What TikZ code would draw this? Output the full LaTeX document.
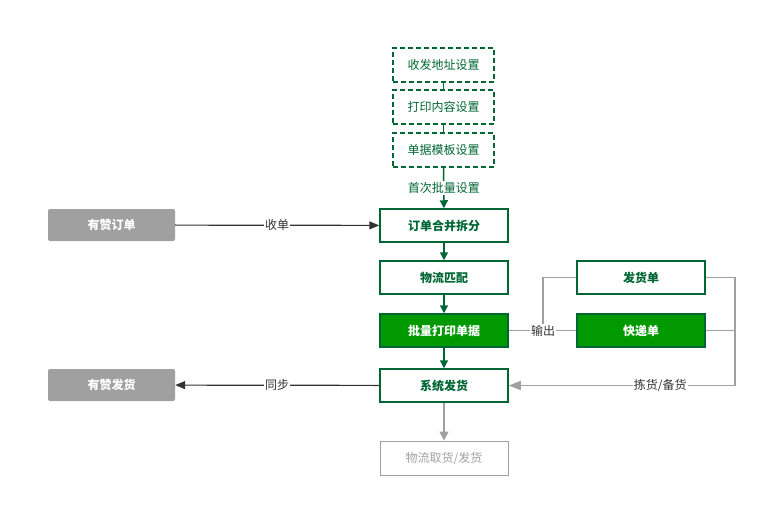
\documentclass[tikz,border=0pt]{standalone}
\usepackage{fontspec}
\setmainfont{Noto Sans CJK SC}
\usetikzlibrary{arrows.meta}
\definecolor{dg}{HTML}{006633}
\definecolor{fg}{HTML}{009900}
\definecolor{gr}{HTML}{A0A0A0}
\begin{document}
\begin{tikzpicture}[x=1pt,y=-1pt,font=\fontsize{12}{14}\selectfont,
 dbox/.style={draw=dg,line width=1.5pt,dash pattern=on 5pt off 3pt,minimum width=101pt,minimum height=34pt,text=dg,inner sep=0},
 box/.style={draw=dg,line width=1.5pt,minimum width=128pt,minimum height=33pt,text=dg,font=\fontsize{12}{14}\selectfont\bfseries,inner sep=0},
 fbox/.style={box,fill=fg,text=white},
 grbox/.style={fill=gr,rounded corners=2pt,minimum width=127pt,minimum height=32pt,text=white,font=\fontsize{12}{14}\selectfont\bfseries,inner sep=0},
 ga/.style={draw=dg,line width=1.5pt,-{Triangle[length=8pt,width=8pt]}},
 gl/.style={draw=gr,line width=1.5pt},
 lab/.style={fill=white,inner sep=1pt,text=black!80}]
\useasboundingbox (0,0) rectangle (767,506);
\node[dbox] (a) at (443.5,65) {收发地址设置};
\node[dbox] (b) at (443.5,107) {打印内容设置};
\node[dbox] (c) at (443.5,150) {单据模板设置};
\node[box] (d) at (444,225.5) {订单合并拆分};
\node[box] (e) at (444,277.5) {物流匹配};
\node[fbox] (f) at (444,330.5) {批量打印单据};
\node[box] (g) at (444,385.5) {系统发货};
\node[draw=gr,line width=1pt,minimum width=128pt,minimum height=34pt,text=gr,inner sep=0] (h) at (444,458) {物流取货/发货};
\node[grbox] (y1) at (111.5,225) {有赞订单};
\node[grbox] (y2) at (111.5,385) {有赞发货};
\node[box] (p) at (641,277.5) {发货单};
\node[fbox] (q) at (641,330.5) {快递单};
\draw[dg,line width=1.5pt] (a) -- (b); \draw[dg,line width=1.5pt] (b) -- (c);
\draw[ga] (c) -- node[lab,text=dg]{首次批量设置} (d);
\draw[ga] (d) -- (e); \draw[ga] (e) -- (f); \draw[ga] (f) -- (g);
\draw[gl,-{Triangle[length=9pt,width=9pt]}] (g) -- (h);
\draw[line width=1.2pt,black!80,-{Triangle[length=10pt,width=8pt]}] (y1) -- node[lab]{收单} (d);
\draw[line width=1.2pt,black!80,-{Triangle[length=10pt,width=8pt]}] (g) -- node[lab]{同步} (y2);
\coordinate (m) at (543,330.5);
\coordinate (r) at (735,385.5);
\draw[gl] (f) -- (q);
\draw[gl] (m) |- (p);
\node[lab] at (m) {输出};
\draw[gl] (p.east) -| (r);
\draw[gl] (q.east) -- (q.east -| r);
\draw[gl,-{Triangle[length=12pt,width=9pt]}] (r) -- node[pos=0.33,lab]{拣货/备货} (g);
\end{tikzpicture}
\end{document}
